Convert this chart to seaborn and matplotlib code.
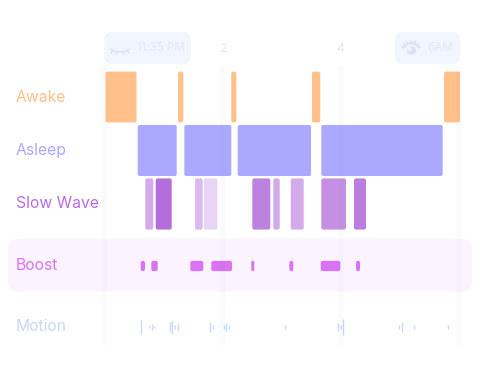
import matplotlib
matplotlib.use("Agg")
import matplotlib.pyplot as plt
from matplotlib.patches import FancyBboxPatch
import numpy as np
import pandas as pd
import seaborn as sns

# ---- data: positions along the night, in chart units (0 = fall-asleep time)
row_names = ["Awake", "Asleep", "Slow Wave", "Boost", "Motion"]
tick_labels = ["2", "4"]
start_label = "11:35 PM"
end_label = "6AM"

awake_start = [0.5, 73.0, 126.3, 207.0, 339.0]
awake_end = [31.5, 78.3, 131.3, 215.3, 355.0]

asleep_start = [32.7, 79.3, 132.7, 216.3]
asleep_end = [71.7, 126.3, 206.0, 337.7]

slow_start = [40.3, 50.7, 90.0, 99.0, 147.3, 168.3, 185.7, 216.3, 249.0]
slow_end = [48.3, 66.7, 97.7, 112.3, 165.3, 174.7, 198.7, 241.0, 261.0]
slow_strength = [0.55, 0.95, 0.45, 0.28, 0.82, 0.55, 0.55, 0.72, 0.85]

boost_start = [35.7, 46.3, 85.3, 106.3, 146.3, 184.3, 215.7, 251.0]
boost_end = [40.0, 52.7, 98.3, 127.0, 149.3, 188.3, 235.3, 255.0]

motion_at = [36, 44, 46.7, 49.3, 64.7, 67.3, 70, 72.7, 105.3, 108, 118.7, 121,
             123.7, 179.7, 233, 235.7, 238.3, 294.3, 297, 308.7, 342.7]
motion_size = [13.5, 2.7, 5.3, 2.7, 10, 14, 4.5, 7.3, 10, 4.7, 3.3, 7.3,
               4.7, 4.7, 7.3, 4.7, 15.7, 4.7, 10, 4.7, 4.7]

guide_at = [-0.7, 117.5, 236, 354]

# ---- styling
ORANGE, VIOLET, PURPLE, PINK, BLUE = "#FFC08A", "#ABA8FF", "#AF66D9", "#D973F2", "#CBD7F9"
GREY_TEXT = "#E2E8FA"
sns.set_theme(style="white", rc={"figure.facecolor": "white", "axes.facecolor": "white"})
plt.rcParams["font.family"] = ["Inter", "DejaVu Sans"]

fig, ax = plt.subplots(figsize=(4.8, 3.85), dpi=100)
ax.set_position([0, 0, 1, 1])


def track(starts, ends, row_y, thick, color, strengths=None):
    """Draw one track with seaborn's barplot, on numeric scales."""
    strengths = strengths if strengths is not None else [1.0] * len(starts)
    for s, e, a in zip(starts, ends, strengths):
        frame = pd.DataFrame({"dur": [e - s], "row": [row_y]})
        sns.barplot(data=frame, x="dur", y="row", orient="y", native_scale=True,
                    left=s, width=thick, color=color, saturation=1, alpha=a,
                    linewidth=0, ax=ax, legend=False, errorbar=None)


track(awake_start, awake_end, 97, 50.8, ORANGE)
track(asleep_start, asleep_end, 150.5, 51, VIOLET)
track(slow_start, slow_end, 204, 51.2, PURPLE, slow_strength)
track(boost_start, boost_end, 266, 10.3, PINK)

# rounded corners: every bar keeps the geometry seaborn gave it
for p in list(ax.patches):
    x, y, w, h = p.get_x(), p.get_y(), p.get_width(), p.get_height()
    col, a = p.get_facecolor(), p.get_alpha()
    p.remove()
    r = min(2.0, w / 2 - 0.05, h / 2 - 0.05)
    ax.add_patch(FancyBboxPatch((x + r, y + r), w - 2 * r, h - 2 * r,
                                boxstyle=f"round,pad={r},rounding_size={r}",
                                fc=col[:3], alpha=a if a is not None else col[3],
                                lw=0, zorder=3))

# motion ticks
motion = pd.DataFrame({"at": motion_at, "size": motion_size})
ax.vlines(motion["at"], 327 - motion["size"] / 2, 327 + motion["size"] / 2,
          color=BLUE, lw=1.0, zorder=3)

# boost band
ax.add_patch(FancyBboxPatch((-97 + 11, 238.7 + 11), 464 - 22, 53 - 22,
                            boxstyle="round,pad=11,rounding_size=11",
                            fc="#FBF4FF", lw=0, zorder=1))

# header pills
for x0, x1 in [(-0.7, 85.7), (290, 355.3)]:
    ax.add_patch(FancyBboxPatch((x0 + 7, 32.3 + 7), x1 - x0 - 14, 31.4 - 14,
                                boxstyle="round,pad=7,rounding_size=7",
                                fc="#F1F5FE", lw=0, zorder=1))

# hour guides, faint and soft-edged, on top of the bars
for gx in guide_at:
    for half, al in [(3.2, 0.010), (2.0, 0.012)]:
        ax.add_patch(FancyBboxPatch((gx - half + 1, 67), 2 * half - 2, 277,
                                    boxstyle="round,pad=1,rounding_size=1",
                                    fc="#5E5EA0", alpha=al, lw=0, zorder=5))

# row labels
label_cols = [ORANGE, VIOLET, "#B86BE0", PINK, "#CAD7FA"]
label_y = [97, 150.5, 204, 265, 326.5]
for name, c, y in zip(row_names, label_cols, label_y):
    ax.text(-89.5, y, name, color=c, fontsize=11.3, va="center", ha="left", zorder=6)

# header text
ax.text(55.5, 48, start_label, color=GREY_TEXT, fontsize=8.4, ha="center", va="center", zorder=6)
ax.text(335.5, 48, end_label, color=GREY_TEXT, fontsize=8.4, ha="center", va="center", zorder=6)
ax.text(119, 48.5, tick_labels[0], color=GREY_TEXT, fontsize=9, ha="center", va="center", zorder=6)
ax.text(235.5, 48.5, tick_labels[1], color=GREY_TEXT, fontsize=9, ha="center", va="center", zorder=6)

# closed-eye icon
t = np.linspace(-1, 1, 30)
ax.plot(15 + 9 * t, 49 + 3.2 * (1 - t ** 2), color="#DCE3F8", lw=1.2, zorder=6, solid_capstyle="round")
for lx, dx in zip([7.5, 12, 18, 22.5], [-1.5, -0.6, 0.6, 1.5]):
    ax.plot([lx, lx + dx], [50.6 if abs(dx) > 1 else 51.8, 53.2 if abs(dx) > 1 else 55],
            color="#DCE3F8", lw=1.1, zorder=6, solid_capstyle="round")

# open-eye icon
ax.plot(306 + 8 * t, 47.5 - 4.5 * (1 - t ** 2), color="#DCE3F8", lw=1.6, zorder=6)
ax.add_patch(plt.Circle((306.5, 50.5), 4.4, fc="#DCE3F8", lw=0, zorder=6))
ax.add_patch(plt.Circle((304.5, 49), 2.0, fc="#F1F5FE", lw=0, zorder=6))
for a0 in [-120, -90, -60, -30, -150, 0, 180]:
    ra = np.deg2rad(a0)
    ax.plot([306 + 6.5 * np.cos(ra), 306 + 9 * np.cos(ra)],
            [47 + 4 * np.sin(ra), 47 + 6.5 * np.sin(ra)],
            color="#DCE3F8", lw=1.2, zorder=6)

ax.set_xlim(-105, 375)
ax.set_ylim(385, 0)
ax.set_xlabel("")
ax.set_ylabel("")
ax.set_xticks([])
ax.set_yticks([])
sns.despine(ax=ax, left=True, bottom=True)
fig.savefig("out.png", dpi=100)
